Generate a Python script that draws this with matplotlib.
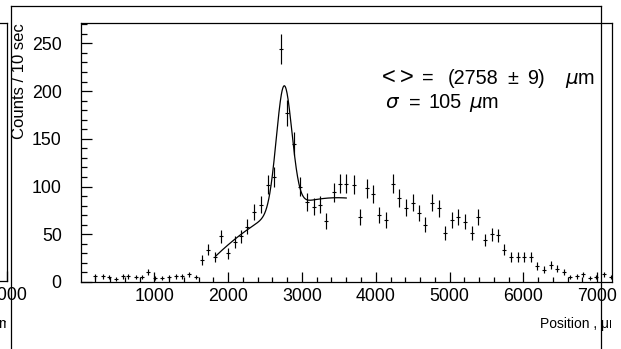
import numpy as np
import matplotlib
matplotlib.use("Agg")
import matplotlib.pyplot as plt
from matplotlib.lines import Line2D
from matplotlib.transforms import Bbox

# histogram: bin position (um) and counts per bin
position = [200, 300, 390, 480, 570, 650, 750, 830, 920, 1010, 1110, 1200, 1300, 1380, 1470, 1560,
            1640, 1730, 1820, 1910, 2000, 2090, 2170, 2260, 2350, 2440, 2540, 2620, 2710, 2800, 2890,
            2980, 3070, 3160, 3240, 3330, 3430, 3520, 3600, 3700, 3780, 3880, 3960, 4050, 4140,
            4230, 4320, 4410, 4500, 4580, 4670, 4760, 4850, 4940, 5030, 5120, 5210, 5300, 5390, 5480,
            5570, 5660, 5740, 5830, 5920, 6010, 6100, 6190, 6280, 6370, 6460, 6550, 6630, 6720, 6810,
            6900, 6990, 7090, 7180]
counts = [6, 6, 5, 3, 6, 6, 5, 5, 10, 4, 4, 5, 6, 6, 8, 5,
          23, 34, 26, 48, 30, 42, 48, 58, 73, 81, 102, 110, 244, 177, 145,
          100, 84, 79, 81, 64, 94, 103, 103, 102, 68, 98, 92, 70, 65,
          103, 88, 78, 83, 72, 60, 83, 77, 51, 65, 68, 63, 51, 68, 44,
          50, 49, 34, 26, 26, 26, 26, 17, 13, 18, 14, 10, 5, 6, 8, 4, 5, 8, 5]

# fitted gaussian + quadratic background
fit_mean = 2758.0
fit_mean_err = 9
fit_sigma = 105.0
fit_amp = 129.0
bkg_x0 = 2400.0
bkg_coef = [62.0, 0.0486, -2.245e-5]
fit_lo, fit_hi = 1830, 3600

x_ticks = [1000, 2000, 3000, 4000, 5000, 6000, 7000]
y_ticks = [0, 50, 100, 150, 200, 250]

W, H = 621, 349
plt.rcParams["font.family"] = ["Liberation Sans", "DejaVu Sans"]
plt.rcParams["mathtext.fontset"] = "dejavusans"

fig = plt.figure(figsize=(W / 100, H / 100), dpi=100)


def fx(x):
    return x / W


def fy(y):
    return 1 - y / H


def style_axes(a):
    for s in a.spines.values():
        s.set_linewidth(0.9)
    a.tick_params(which="both", direction="in", top=False, right=False, width=0.9,
                  labelsize=12.8)
    a.tick_params(axis="x", which="major", length=7.2, pad=4.5)
    a.tick_params(axis="x", which="minor", length=3.6)
    a.tick_params(axis="y", which="major", length=8, pad=13.5)
    a.tick_params(axis="y", which="minor", length=4.3)


# main pad
ax = fig.add_axes([fx(80.5), fy(282), fx(612) - fx(80.5), fy(23.3) - fy(282)])
ax.errorbar(position, counts, yerr=np.sqrt(counts), fmt="_", ms=2.2, mew=0.8,
            color="black", ecolor="black", elinewidth=0.85, capsize=0)
xf = np.linspace(fit_lo, fit_hi, 500)
d = xf - bkg_x0
yf = (fit_amp * np.exp(-0.5 * ((xf - fit_mean) / fit_sigma) ** 2)
      + bkg_coef[0] + bkg_coef[1] * d + bkg_coef[2] * d ** 2)
ax.plot(xf, yf, color="black", lw=0.9)
ax.set_xlim(0, 7200)
ax.set_ylim(0, 271)
ax.set_xticks(x_ticks)
ax.set_xticks(np.arange(200, 7200, 200), minor=True)
ax.set_yticks(y_ticks)
ax.set_yticks(np.arange(10, 271, 10), minor=True)
style_axes(ax)

# neighbouring pad, mostly outside the picture
ax2 = fig.add_axes([fx(7 - 531.5), fy(281), fx(531.5), fy(23.3) - fy(281)])
ax2.set_xlim(0, 7000)
ax2.set_ylim(0, 271)
ax2.set_xticks([7000])
ax2.set_yticks([])
style_axes(ax2)

fig.text(fx(20), fy(23), "Counts / 10 sec", rotation=90, ha="center", va="top", fontsize=12)

# x titles, cut by the pad edge as in the original
for text_end, clip_x in ((620.5, 610.5), (10.5, 5.5)):
    t = fig.text(fx(text_end), fy(328), "Position , \u03bcm", ha="right", va="baseline",
                 fontsize=10)
    t.set_clip_box(Bbox.from_extents(0, 0, clip_x, H))
    t.set_clip_on(True)

# fit results
fs = 14.3
fig.text(fx(381.7), fy(84), "<", fontsize=17, va="baseline")
fig.text(fx(399.5), fy(84), ">", fontsize=17, va="baseline")
fig.text(fx(421.7), fy(84), "=", fontsize=fs, va="baseline")
fig.text(fx(448), fy(84), "(%d" % fit_mean, fontsize=fs, va="baseline")
fig.text(fx(507), fy(84), "\u00b1", fontsize=fs, va="baseline")
fig.text(fx(527), fy(84), "%d)" % fit_mean_err, fontsize=fs, va="baseline")
fig.text(fx(565), fy(84), r"$\mu$m", fontsize=fs, va="baseline")
fig.text(fx(385), fy(108.3), r"$\sigma$", fontsize=fs, va="baseline")
fig.text(fx(409), fy(108.3), "=", fontsize=fs, va="baseline")
fig.text(fx(429), fy(108.3), "%d" % fit_sigma, fontsize=fs, va="baseline")
fig.text(fx(469), fy(108.3), r"$\mu$m", fontsize=fs, va="baseline")

# pad frame lines
for xs, ys in (([11, 11], [6, H]), ([11, 601], [6, 6]), ([601, 601], [6, H])):
    fig.add_artist(Line2D([fx(v) for v in xs], [fy(v) for v in ys],
                          transform=fig.transFigure, color="black", lw=0.9))

fig.savefig("out.png", dpi=100)
